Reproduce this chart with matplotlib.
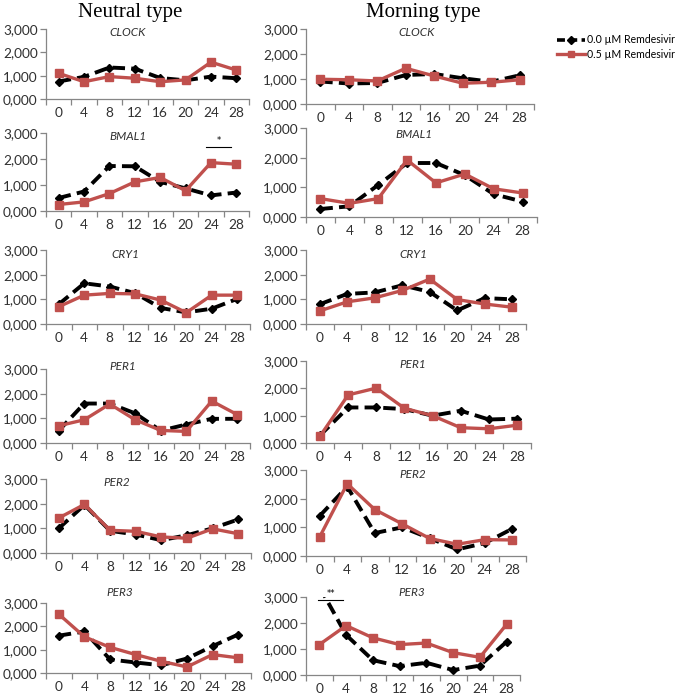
import matplotlib
matplotlib.use("Agg")
import matplotlib.pyplot as plt
from matplotlib.lines import Line2D

# ---- data (relative expression) ----
hours = [0, 4, 8, 12, 16, 20, 24, 28]
genes = ["CLOCK", "BMAL1", "CRY1", "PER1", "PER2", "PER3"]

# neutral type
neutral_ctrl = [
    [0.75, 0.95, 1.35, 1.30, 0.90, 0.80, 0.96, 0.89],   # CLOCK
    [0.50, 0.75, 1.73, 1.72, 1.12, 0.87, 0.60, 0.71],   # BMAL1
    [0.80, 1.65, 1.52, 1.25, 0.65, 0.47, 0.62, 1.02],   # CRY1
    [0.50, 1.60, 1.60, 1.20, 0.50, 0.75, 0.98, 0.98],   # PER1
    [1.00, 1.95, 0.90, 0.75, 0.52, 0.72, 1.00, 1.36],   # PER2
    [1.60, 1.78, 0.58, 0.45, 0.33, 0.62, 1.15, 1.65],   # PER3
]
neutral_rdv = [
    [1.10, 0.74, 0.96, 0.89, 0.74, 0.82, 1.58, 1.24],
    [0.25, 0.35, 0.67, 1.12, 1.29, 0.78, 1.86, 1.80],
    [0.70, 1.17, 1.24, 1.22, 0.97, 0.46, 1.17, 1.17],
    [0.70, 0.94, 1.58, 0.94, 0.51, 0.47, 1.70, 1.15],
    [1.42, 1.97, 0.92, 0.88, 0.65, 0.60, 0.98, 0.78],
    [2.52, 1.55, 1.10, 0.79, 0.50, 0.26, 0.79, 0.65],
]

# morning type
morning_ctrl = [
    [0.90, 0.82, 0.84, 1.16, 1.20, 1.03, 0.89, 1.15],
    [0.27, 0.36, 1.08, 1.82, 1.82, 1.41, 0.77, 0.52],
    [0.80, 1.22, 1.28, 1.57, 1.30, 0.55, 1.05, 1.00],
    [0.28, 1.30, 1.30, 1.24, 1.00, 1.18, 0.86, 0.89],
    [1.40, 2.42, 0.80, 1.00, 0.62, 0.23, 0.45, 0.95],
    [3.40, 1.54, 0.57, 0.34, 0.47, 0.19, 0.36, 1.28],
]
morning_rdv = [
    [0.99, 0.97, 0.92, 1.43, 1.12, 0.83, 0.87, 0.97],
    [0.62, 0.46, 0.62, 1.92, 1.15, 1.45, 0.95, 0.81],
    [0.53, 0.90, 1.06, 1.36, 1.82, 0.99, 0.81, 0.68],
    [0.25, 1.76, 2.01, 1.27, 1.00, 0.56, 0.52, 0.65],
    [0.67, 2.52, 1.62, 1.12, 0.61, 0.41, 0.57, 0.56],
    [1.17, 1.90, 1.43, 1.17, 1.23, 0.86, 0.68, 1.95],
]

labels = ["0.0 \u00b5M Remdesivir", "0.5 \u00b5M Remdesivir"]

# ---- layout in pixels: (left, top, width, bottom) of each plot area ----
W, H = 676, 699
left_boxes = [(46, 29, 203, 99), (46, 133, 203, 211), (46, 250, 204, 324),
              (46, 369, 204, 443), (46, 479, 205, 553), (46, 603, 205, 673)]
right_boxes = [(306, 29, 228, 104), (306, 128, 231, 217), (306, 250, 220, 324),
               (306, 361, 225, 443), (306, 470, 220, 556), (306, 597, 214, 675)]
left_gene_xy = [(128, 32), (128, 137), (125, 254), (123, 367), (117, 483), (120, 593)]
right_gene_xy = [(417, 32), (414, 135), (413, 254), (413, 365), (413, 475), (412, 593)]

RED = "#C0504D"
AX = "#868686"
TXT = "#303030"
tick_font = "Lato"

fig = plt.figure(figsize=(W / 100, H / 100), dpi=100)


def yfmt(v):
    return f"{v:.3f}".replace(".", ",")


def draw(box, ctrl, rdv):
    l, t, w, b = box
    ax = fig.add_axes([l / W, 1 - b / H, w / W, (b - t) / H])
    xs = range(len(hours))
    ax.plot(xs, ctrl, color="black", lw=2.8, dashes=(3.2, 1.6),
            marker="D", ms=4, mec="black", mfc="black")
    ax.plot(xs, rdv, color=RED, lw=2.4, marker="s", ms=5.5,
            mec=RED, mfc=RED)
    ax.set_xlim(-0.5, len(hours) - 0.5)
    ax.set_ylim(0, 3)
    for s in ("top", "right"):
        ax.spines[s].set_visible(False)
    for s in ("left", "bottom"):
        ax.spines[s].set_color(AX)
        ax.spines[s].set_linewidth(0.9)
    ax.set_xticks(list(xs))
    ax.set_xticklabels([str(h) for h in hours], fontfamily=tick_font,
                       fontsize=9.8, color=TXT)
    ax.set_xticks([i - 0.5 for i in range(len(hours) + 1)], minor=True)
    ax.tick_params(axis="x", which="major", length=0, pad=6)
    ax.tick_params(axis="x", which="minor", length=4, color=AX, width=0.9)
    yt = [0, 1, 2, 3]
    ax.set_yticks(yt)
    ax.set_yticklabels([yfmt(v) for v in yt], fontfamily=tick_font,
                       fontsize=9.8, color=TXT)
    ax.tick_params(axis="y", length=4, color=AX, width=0.9, pad=2)
    ax.patch.set_alpha(0)
    return ax


axes_l, axes_r = [], []
for i in range(len(genes)):
    axes_l.append(draw(left_boxes[i], neutral_ctrl[i], neutral_rdv[i]))
    axes_r.append(draw(right_boxes[i], morning_ctrl[i], morning_rdv[i]))
    for (gx, gy) in (left_gene_xy[i], right_gene_xy[i]):
        fig.text(gx / W, 1 - gy / H, genes[i], ha="center", va="center",
                 fontsize=8.5, style="italic", fontfamily=tick_font, color=TXT)

# significance marks
ax = axes_l[1]
ax.plot([5.8, 6.8], [2.45, 2.45], color="black", lw=0.8)
ax.text(6.3, 2.55, "*", ha="center", va="bottom", fontsize=6)
ax = axes_r[5]
ax.plot([-0.05, 0.9], [2.88, 2.88], color="black", lw=0.8, clip_on=False)
ax.text(0.42, 2.95, "**", ha="center", va="bottom", fontsize=6, clip_on=False)

fig.text(130 / W, 1 - 13 / H, "Neutral type", ha="center", va="center",
         fontfamily="Liberation Serif", fontsize=15)
fig.text(423 / W, 1 - 13 / H, "Morning type", ha="center", va="center",
         fontfamily="Liberation Serif", fontsize=15)

handles = [
    Line2D([], [], color="black", lw=2.6, dashes=(2.2, 1.2), marker="D", ms=4),
    Line2D([], [], color=RED, lw=2.4, marker="s", ms=5),
]
fig.legend(handles, labels, loc="upper left",
           bbox_to_anchor=(553 / W, 1 - 30 / H), frameon=False,
           prop={"family": tick_font, "size": 7.6}, handlelength=2.6,
           handletextpad=0.25, labelspacing=0.35, borderaxespad=0)

fig.savefig("out.png", dpi=100)
